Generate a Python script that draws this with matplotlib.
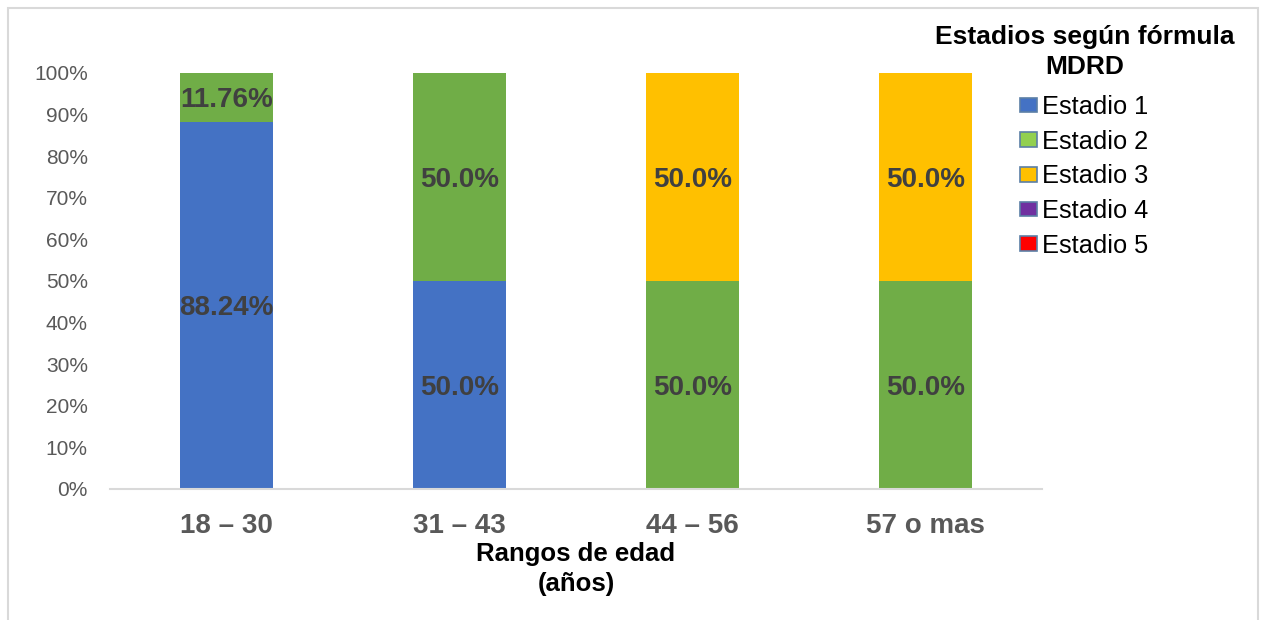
import matplotlib
matplotlib.use("Agg")
import matplotlib.pyplot as plt
from matplotlib.patches import Patch, Rectangle
from matplotlib.ticker import PercentFormatter
import numpy as np

plt.rcParams["font.family"] = ["Liberation Sans", "DejaVu Sans"]

# Data
age_ranges = ["18 – 30", "31 – 43", "44 – 56", "57 o mas"]
stages = ["Estadio 1", "Estadio 2", "Estadio 3", "Estadio 4", "Estadio 5"]
estadio_1 = [88.24, 50.0, 0.0, 0.0]
estadio_2 = [11.76, 50.0, 50.0, 50.0]
estadio_3 = [0.0, 0.0, 50.0, 50.0]
estadio_4 = [0.0, 0.0, 0.0, 0.0]
estadio_5 = [0.0, 0.0, 0.0, 0.0]
series = [estadio_1, estadio_2, estadio_3, estadio_4, estadio_5]

bar_colors = ["#4472C4", "#70AD47", "#FFC000", "#7030A0", "#FF0000"]
legend_colors = ["#4472C4", "#92D050", "#FFC000", "#7030A0", "#FF0000"]


def fmt_label(v):
    return f"{v:.1f}%" if abs(v - round(v, 1)) < 1e-9 else f"{v:.2f}%"


fig = plt.figure(figsize=(12.63, 6.2), dpi=100)
ax = fig.add_axes([0.0871, 0.2113, 0.7379, 0.6710])

# Outer chart border
fig.patches.append(Rectangle((0.0063, -0.02), 0.9897, 1.0069, transform=fig.transFigure,
                             fill=False, edgecolor="#D9D9D9", linewidth=1.5))

x = np.arange(len(age_ranges))
bottom = np.zeros(len(age_ranges))
for vals, color in zip(series, bar_colors):
    vals = np.array(vals) / 100
    ax.bar(x, vals, width=0.403, bottom=bottom, color=color, linewidth=0)
    for xi, b, v in zip(x, bottom, vals):
        if v > 0:
            ax.text(xi, b + v / 2, fmt_label(v * 100), ha="center", va="center_baseline",
                    fontsize=20, fontweight="bold", color="#404040")
    bottom += vals

# Axis setup
ax.set_xlim(-0.5, 3.5)
ax.set_ylim(0, 1)
ax.set_yticks(np.arange(0, 1.01, 0.1))
ax.yaxis.set_major_formatter(PercentFormatter(1.0, decimals=0))
ax.set_xticks(x)
ax.set_xticklabels(age_ranges, fontsize=20, fontweight="bold", color="#595959")
ax.tick_params(axis="y", length=0, pad=16, labelsize=15, labelcolor="#595959")
ax.tick_params(axis="x", length=0, pad=17.5)
for side in ["top", "right", "left"]:
    ax.spines[side].set_visible(False)
ax.spines["bottom"].set_color("#D9D9D9")
ax.spines["bottom"].set_linewidth(1.5)
ax.set_xlabel("Rangos de edad\n(años)", fontsize=18.5, fontweight="bold",
              color="black", labelpad=2, linespacing=1.32)

# Legend
fig.text(1085 / 1263, 1 - 52 / 620, "Estadios según fórmula\nMDRD", ha="center", va="center",
         fontsize=19, fontweight="bold", color="black", linespacing=1.31,
         multialignment="center")
handles = [Patch(facecolor=c, edgecolor="#5B7FA6", linewidth=1.2) for c in legend_colors]
fig.legend(handles, stages, loc="upper left", bbox_to_anchor=(1020 / 1263, 1 - 95 / 620),
           frameon=False, fontsize=18.3,
           handlelength=0.65, handleheight=0.5, handletextpad=0.2,
           labelspacing=0.42, borderpad=0, borderaxespad=0)

fig.savefig("out.png", dpi=100)
